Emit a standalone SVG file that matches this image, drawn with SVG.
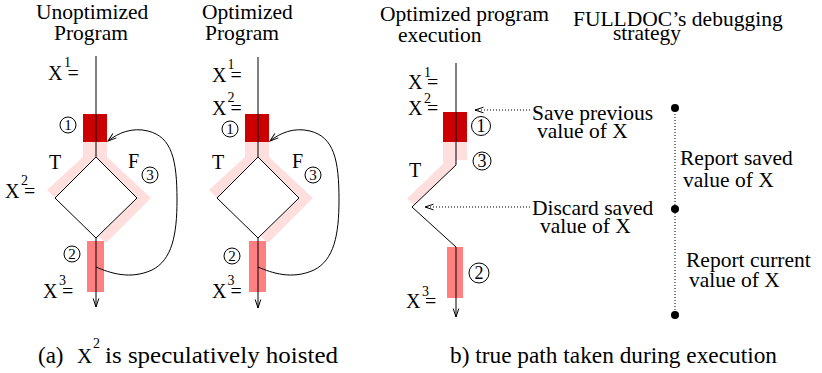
<svg xmlns="http://www.w3.org/2000/svg" width="822" height="373" viewBox="0 0 822 373">
<style>
text{font-family:"Liberation Serif","Times New Roman",serif;fill:#000}
.t{font-size:21.5px}
.x{font-size:20px}
.s{font-size:14px}
.c{font-size:15px;text-anchor:middle}
.c3{font-size:18px;text-anchor:middle}
.cap{font-size:23px}
.ln{fill:none;stroke:#000;stroke-width:1}
.dot{fill:none;stroke:#000;stroke-width:1;stroke-dasharray:1 2}
.band{fill:#ffdede}
.hot{fill:#cc0000}
.warm{fill:#ff8080}
.circ{fill:none;stroke:#000;stroke-width:1}
</style>
<defs>
<marker id="ah" markerWidth="10" markerHeight="8" refX="9" refY="4" orient="auto" markerUnits="userSpaceOnUse">
<path d="M0.5,1.2 L9,4 L0.5,6.8" fill="none" stroke="#000" stroke-width="1"/>
</marker>
</defs>
<rect width="822" height="373" fill="#fff"/>

<!-- Titles -->
<g id="titles">
<text class="t" x="36" y="19">Unoptimized<tspan x="54" y="40">Program</tspan></text>
<text class="t" x="202" y="19">Optimized<tspan x="205" y="40">Program</tspan></text>
<text class="t" x="380" y="21">Optimized program<tspan x="398" y="42">execution</tspan></text>
<text class="t" x="573" y="26">FULLDOC’s debugging<tspan x="613" y="40">strategy</tspan></text>
</g>

<!-- Panel 1 -->
<g id="p1-block1">
<rect class="band" x="83" y="142" width="24" height="16"/>
<polygon class="band" points="83,157 96,157 55,198 47,190"/>
<polygon class="band" points="96,157 107,157 151,198 106,243 98.5,236.5 137,198"/>
<rect class="hot" x="83" y="114" width="24" height="28"/>
</g>
<g id="p1-block2"><rect class="warm" x="87" y="241" width="17" height="51"/></g>
<g id="p1-branch"><polygon class="ln" points="96,157 55,198 96,238 137,198"/></g>

<!-- Panel 2 -->
<g id="p2-block1">
<rect class="band" x="245" y="142" width="24" height="16"/>
<polygon class="band" points="245,157 258,157 217,198 209,190"/>
<polygon class="band" points="258,157 269,157 313,198 268,243 260.5,236.5 299,198"/>
<rect class="hot" x="245" y="114" width="24" height="28"/>
</g>
<g id="p2-block2"><rect class="warm" x="249" y="241" width="17" height="51"/></g>
<g id="p2-branch"><polygon class="ln" points="258,157 217,198 258,238 299,198"/></g>

<!-- Panel 3 -->
<g id="p3-block1">
<rect class="band" x="443" y="142" width="24" height="18"/>
<polygon class="band" points="443,158 456,158 456,165 414,205 407,198.5 443,164"/>
<rect class="hot" x="443" y="112" width="24" height="30"/>
</g>
<g id="p3-block2"><rect class="warm" x="447" y="247" width="16" height="51"/></g>

<!-- Connectors -->
<g id="connectors">
<path class="ln" d="M96,56 V157"/>
<path class="ln" d="M96,238 V307" marker-end="url(#ah)"/>
<path class="ln" d="M96,267 C110,273 130,280 152,270 C172,260 177,235 177,200 C177,160 172,137 148,131 C132,127 118,133 108,141" marker-end="url(#ah)"/>
<path class="ln" d="M258,57 V157"/>
<path class="ln" d="M258,238 V308" marker-end="url(#ah)"/>
<path class="ln" d="M258,267 C272,273 292,280 314,270 C334,260 339,235 339,200 C339,160 334,137 310,131 C294,127 280,133 270,141" marker-end="url(#ah)"/>
<path class="ln" d="M456,63 V165 L412,207 L456,247 V317" marker-end="url(#ah)"/>
<path class="dot" d="M530,110 H475" marker-end="url(#ah)"/>
<path class="dot" d="M530,207 H425" marker-end="url(#ah)"/>
<path class="dot" d="M675,108 V315"/>
<circle cx="675" cy="108" r="4" fill="#000"/>
<circle cx="675" cy="209" r="4" fill="#000"/>
<circle cx="675" cy="315" r="4" fill="#000"/>
</g>

<!-- Labels panel 1 -->
<g id="p1-labels">
<text class="x" x="48" y="80">X<tspan class="s" dx="1.5" dy="-13">1</tspan><tspan dx="-3.5" dy="13">=</tspan></text>
<text class="x" x="5" y="198">X<tspan class="s" dx="1.5" dy="-13">2</tspan><tspan dx="-4" dy="13">=</tspan></text>
<text class="x" x="43" y="298">X<tspan class="s" dx="1.5" dy="-13">3</tspan><tspan dx="-4" dy="13">=</tspan></text>
<text class="x" x="49" y="169">T</text>
<text class="x" x="128" y="168">F</text>
<circle class="circ" cx="68" cy="125" r="8"/><text class="c" x="68" y="130">1</text>
<circle class="circ" cx="150" cy="175" r="8"/><text class="c" x="150" y="180">3</text>
<circle class="circ" cx="72" cy="254" r="8"/><text class="c" x="72" y="259">2</text>
</g>

<!-- Labels panel 2 -->
<g id="p2-labels">
<text class="x" x="212" y="82">X<tspan class="s" dx="1" dy="-13">1</tspan><tspan dx="-4" dy="13">=</tspan></text>
<text class="x" x="212" y="115">X<tspan class="s" dx="1" dy="-13">2</tspan><tspan dx="-4" dy="13">=</tspan></text>
<text class="x" x="212" y="298">X<tspan class="s" dx="1" dy="-13">3</tspan><tspan dx="-4" dy="13">=</tspan></text>
<text class="x" x="212" y="169">T</text>
<text class="x" x="292" y="168">F</text>
<circle class="circ" cx="230" cy="129" r="8"/><text class="c" x="230" y="134">1</text>
<circle class="circ" cx="313" cy="175" r="8"/><text class="c" x="313" y="180">3</text>
<circle class="circ" cx="232" cy="256" r="8"/><text class="c" x="232" y="261">2</text>
</g>

<!-- Labels panel 3 -->
<g id="p3-labels">
<text class="x" x="408" y="89">X<tspan class="s" dx="1.5" dy="-12">1</tspan><tspan dx="-4" dy="12">=</tspan></text>
<text class="x" x="408" y="115">X<tspan class="s" dx="1.5" dy="-12">2</tspan><tspan dx="-4" dy="12">=</tspan></text>
<text class="x" x="406" y="308">X<tspan class="s" dx="1.5" dy="-12">3</tspan><tspan dx="-4" dy="12">=</tspan></text>
<text class="x" x="409" y="177">T</text>
<circle class="circ" cx="481" cy="126" r="9.5"/><text class="c3" x="481" y="132">1</text>
<circle class="circ" cx="482" cy="161" r="9"/><text class="c3" x="482" y="167">3</text>
<circle class="circ" cx="479" cy="273" r="10"/><text class="c3" x="479" y="279">2</text>
</g>

<!-- Strategy labels -->
<g id="save-label"><text class="t" x="532" y="120">Save previous<tspan x="537" y="138">value of X</tspan></text></g>
<g id="discard-label"><text class="t" x="532" y="215">Discard saved<tspan x="540" y="233">value of X</tspan></text></g>
<g id="report-saved"><text class="t" x="680" y="165">Report saved<tspan x="683" y="187">value of X</tspan></text></g>
<g id="report-current"><text class="t" x="686" y="267">Report current<tspan x="689" y="287">value of X</tspan></text></g>

<!-- Captions -->
<g id="captions">
<text class="cap" x="38" y="363">(a)<tspan x="77" style="font-size:21px">X</tspan><tspan class="s" x="93" y="348">2</tspan><tspan x="105" y="363" textLength="233" lengthAdjust="spacingAndGlyphs">is speculatively hoisted</tspan></text>
<text class="cap" x="450" y="363" textLength="327" lengthAdjust="spacingAndGlyphs">b) true path taken during execution</text>
</g>
</svg>
